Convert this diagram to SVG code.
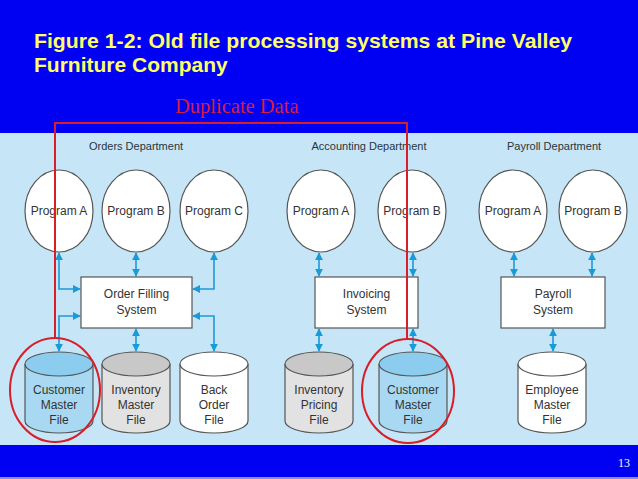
<svg xmlns="http://www.w3.org/2000/svg" width="638" height="479" viewBox="0 0 638 479">
<style>
.title{font-family:"Liberation Sans",Arial,sans-serif;font-weight:bold;font-size:21px;fill:#ffff66}
.dept{font-family:"Liberation Sans",Arial,sans-serif;font-size:11px;fill:#2a3440;text-anchor:middle}
.lbl{font-family:"Liberation Sans",Arial,sans-serif;font-size:12px;fill:#333;text-anchor:middle}
.prog{fill:#fff;stroke:#555;stroke-width:1.2}
.box{fill:#fff;stroke:#555;stroke-width:1.2}
.cyl{stroke:#555;stroke-width:1.2}
.conn{fill:none;stroke:#1b9ad8;stroke-width:1.6;marker-start:url(#ah);marker-end:url(#ah)}
.red{fill:none;stroke:#d81e28;stroke-width:2}
</style>
<defs>
<marker id="ah" viewBox="0 0 10 10" refX="9" refY="5" markerWidth="8" markerHeight="8" markerUnits="userSpaceOnUse" orient="auto-start-reverse">
<path d="M0,0 L10,5 L0,10 z" fill="#1b9ad8"/>
</marker>
</defs>
<rect x="0" y="0" width="638" height="479" fill="#0000f2"/>
<rect x="0" y="133" width="638" height="312" fill="#c6e6f7"/>
<rect x="0" y="477" width="638" height="2" fill="#8a8cf5"/>
<text class="title" x="34" y="48" textLength="538" lengthAdjust="spacingAndGlyphs">Figure 1-2: Old file processing systems at Pine Valley</text>
<text class="title" x="34" y="72">Furniture Company</text>
<text x="175" y="113" font-family="Liberation Serif, Times New Roman, serif" font-size="20.5" fill="#d81e3c">Duplicate Data</text>
<text x="624" y="467" font-family="Liberation Serif, Times New Roman, serif" font-size="12" fill="#fff" text-anchor="middle">13</text>

<text class="dept" x="136" y="150">Orders Department</text>
<text class="dept" x="369" y="150">Accounting Department</text>
<text class="dept" x="554" y="150">Payroll Department</text>

<g id="connectors">
<path class="conn" d="M59,253 V289 H80"/>
<path class="conn" d="M80,316 H59 V351"/>
<path class="conn" d="M136,253 V276"/>
<path class="conn" d="M136,329 V351"/>
<path class="conn" d="M214,253 V289 H193"/>
<path class="conn" d="M193,316 H214 V351"/>
<path class="conn" d="M319,253 V276"/>
<path class="conn" d="M413,253 V276"/>
<path class="conn" d="M319,329 V351"/>
<path class="conn" d="M413,329 V351"/>
<path class="conn" d="M514,253 V276"/>
<path class="conn" d="M592,253 V276"/>
<path class="conn" d="M553,329 V351"/>
</g>

<g id="orders-program-a"><ellipse class="prog" cx="59" cy="211" rx="34" ry="41"/><text class="lbl" x="59" y="215">Program A</text></g>
<g id="orders-program-b"><ellipse class="prog" cx="136" cy="211" rx="34" ry="41"/><text class="lbl" x="136" y="215">Program B</text></g>
<g id="orders-program-c"><ellipse class="prog" cx="214" cy="211" rx="34" ry="41"/><text class="lbl" x="214" y="215">Program C</text></g>
<g id="accounting-program-a"><ellipse class="prog" cx="321" cy="211" rx="34" ry="41"/><text class="lbl" x="321" y="215">Program A</text></g>
<g id="accounting-program-b"><ellipse class="prog" cx="412" cy="211" rx="34" ry="41"/><text class="lbl" x="412" y="215">Program B</text></g>
<g id="payroll-program-a"><ellipse class="prog" cx="513" cy="211" rx="34" ry="41"/><text class="lbl" x="513" y="215">Program A</text></g>
<g id="payroll-program-b"><ellipse class="prog" cx="593" cy="211" rx="34" ry="41"/><text class="lbl" x="593" y="215">Program B</text></g>

<g id="order-filling-system"><rect class="box" x="81" y="277" width="111" height="51"/><text class="lbl" x="136.5" y="298">Order Filling</text><text class="lbl" x="136.5" y="314">System</text></g>
<g id="invoicing-system"><rect class="box" x="315" y="277" width="103" height="51"/><text class="lbl" x="366.5" y="298">Invoicing</text><text class="lbl" x="366.5" y="314">System</text></g>
<g id="payroll-system"><rect class="box" x="501" y="277" width="104" height="51"/><text class="lbl" x="553" y="298">Payroll</text><text class="lbl" x="553" y="314">System</text></g>

<g id="customer-master-file-1"><path class="cyl" d="M25,364 V421 A34,12 0 0 0 93,421 V364" fill="#a9d9f2"/><ellipse class="cyl" cx="59" cy="364" rx="34" ry="12" fill="#8ccdef"/><text class="lbl" x="59" y="394">Customer</text><text class="lbl" x="59" y="409">Master</text><text class="lbl" x="59" y="424">File</text></g>
<g id="inventory-master-file"><path class="cyl" d="M102,364 V421 A34,12 0 0 0 170,421 V364" fill="#e2e2e2"/><ellipse class="cyl" cx="136" cy="364" rx="34" ry="12" fill="#c8c8c8"/><text class="lbl" x="136" y="394">Inventory</text><text class="lbl" x="136" y="409">Master</text><text class="lbl" x="136" y="424">File</text></g>
<g id="back-order-file"><path class="cyl" d="M180,364 V421 A34,12 0 0 0 248,421 V364" fill="#fff"/><ellipse class="cyl" cx="214" cy="364" rx="34" ry="12" fill="#fff"/><text class="lbl" x="214" y="394">Back</text><text class="lbl" x="214" y="409">Order</text><text class="lbl" x="214" y="424">File</text></g>
<g id="inventory-pricing-file"><path class="cyl" d="M285,364 V421 A34,12 0 0 0 353,421 V364" fill="#e2e2e2"/><ellipse class="cyl" cx="319" cy="364" rx="34" ry="12" fill="#c8c8c8"/><text class="lbl" x="319" y="394">Inventory</text><text class="lbl" x="319" y="409">Pricing</text><text class="lbl" x="319" y="424">File</text></g>
<g id="customer-master-file-2"><path class="cyl" d="M379,364 V421 A34,12 0 0 0 447,421 V364" fill="#a9d9f2"/><ellipse class="cyl" cx="413" cy="364" rx="34" ry="12" fill="#8ccdef"/><text class="lbl" x="413" y="394">Customer</text><text class="lbl" x="413" y="409">Master</text><text class="lbl" x="413" y="424">File</text></g>
<g id="employee-master-file"><path class="cyl" d="M518,364 V421 A34,12 0 0 0 586,421 V364" fill="#fff"/><ellipse class="cyl" cx="552" cy="364" rx="34" ry="12" fill="#fff"/><text class="lbl" x="552" y="394">Employee</text><text class="lbl" x="552" y="409">Master</text><text class="lbl" x="552" y="424">File</text></g>

<g id="duplicate-data-highlight">
<path class="red" d="M55,338 V123 H407 V339"/>
<ellipse class="red" cx="55" cy="390" rx="45" ry="52"/>
<ellipse class="red" cx="408" cy="391" rx="46" ry="52"/>
</g>
</svg>
